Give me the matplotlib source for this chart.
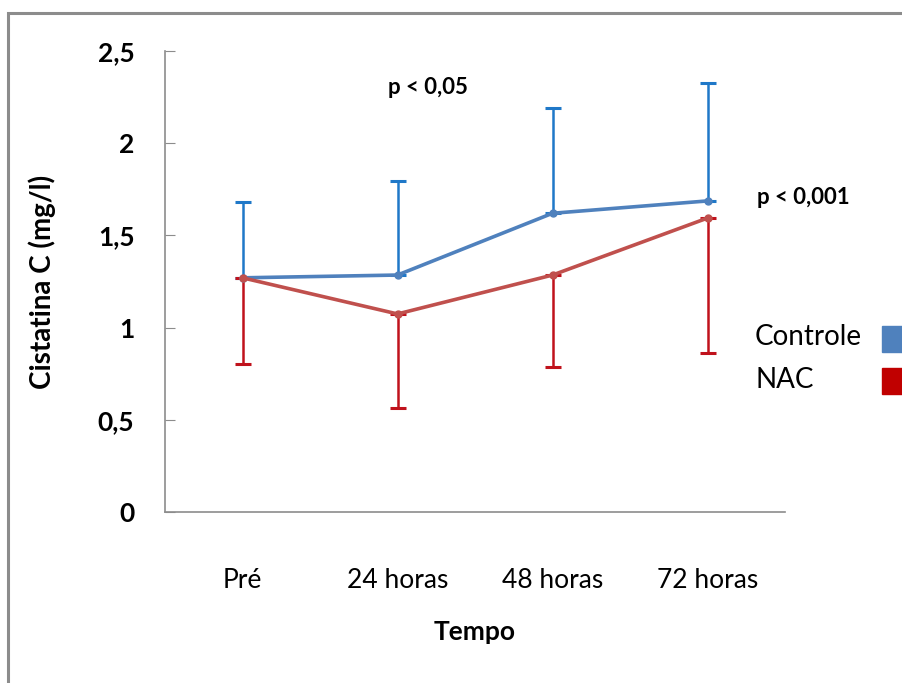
import numpy as np
import matplotlib.pyplot as plt
from matplotlib.patches import Rectangle

# data
tempos = ["Pré", "24 horas", "48 horas", "72 horas"]
controle = [1.27, 1.285, 1.62, 1.687]
controle_err = [0.41, 0.51, 0.57, 0.64]   # upper bars only
nac = [1.27, 1.074, 1.285, 1.594]
nac_err = [0.47, 0.51, 0.50, 0.73]        # lower bars only

plt.rcParams['font.family'] = ['Lato', 'DejaVu Sans']

fig = plt.figure(figsize=(9.02, 6.83), dpi=100)
# outer grey frame (chart border, cut at right and bottom)
fig.patches.append(Rectangle((8 / 902, -0.05), 1.2, (683 - 13) / 683 + 0.05,
                             transform=fig.transFigure, fill=False,
                             edgecolor="#8c8c8c", linewidth=2.2))

ax = fig.add_axes([165 / 902, (683 - 512) / 683, 620 / 902, (512 - 51) / 683])
x = np.arange(len(tempos)) + 0.5

ax.errorbar(x, controle, yerr=[np.zeros(4), controle_err], fmt="none",
            ecolor="#1f78c8", elinewidth=1.8, capsize=6, capthick=2.2)
ax.errorbar(x, nac, yerr=[nac_err, np.zeros(4)], fmt="none",
            ecolor="#c0121c", elinewidth=1.8, capsize=6, capthick=2.2)
ax.plot(x, controle, color="#4f81bd", lw=2.6, marker="o", ms=5, zorder=3)
ax.plot(x, nac, color="#c0504d", lw=2.6, marker="o", ms=5, zorder=3)

ax.set_xlim(0, 4)
ax.set_ylim(0, 2.5)
ax.set_yticks([0, 0.5, 1, 1.5, 2, 2.5])
ax.set_yticklabels(["0", "0,5", "1", "1,5", "2", "2,5"])
ax.set_xticks(x)
ax.set_xticklabels(tempos)
for s in ["top", "right"]:
    ax.spines[s].set_visible(False)
for s in ["left", "bottom"]:
    ax.spines[s].set_color("#8c8c8c")
    ax.spines[s].set_linewidth(1.2)
ax.tick_params(axis="y", direction="in", length=7, color="#8c8c8c",
               labelsize=19, pad=22)
ax.tick_params(axis="x", length=0, labelsize=19, pad=40)
for lab in ax.get_yticklabels():
    lab.set_fontweight("bold")

ax.set_ylabel("Cistatina C (mg/l)", fontsize=20, fontweight="bold", labelpad=30)
ax.set_xlabel("Tempo", fontsize=19, fontweight="bold", labelpad=20)

fig.text(428 / 902, 1 - 87 / 683, "p < 0,05", fontsize=16, fontweight="bold",
         ha="center", va="center")
fig.text(803 / 902, 1 - 197 / 683, "p < 0,001", fontsize=16, fontweight="bold",
         ha="center", va="center")

# legend drawn as in the original (labels left of colour boxes)
fig.text(755 / 902, 1 - 337 / 683, "Controle", fontsize=20, ha="left", va="center")
fig.text(755 / 902, 1 - 380 / 683, "NAC", fontsize=20, ha="left", va="center")
fig.patches.append(Rectangle((882 / 902, 1 - 352 / 683), 30 / 902, 26 / 683,
                             transform=fig.transFigure, color="#4f81bd"))
fig.patches.append(Rectangle((882 / 902, 1 - 394 / 683), 30 / 902, 26 / 683,
                             transform=fig.transFigure, color="#c00000"))

fig.savefig("out.png", dpi=100)
